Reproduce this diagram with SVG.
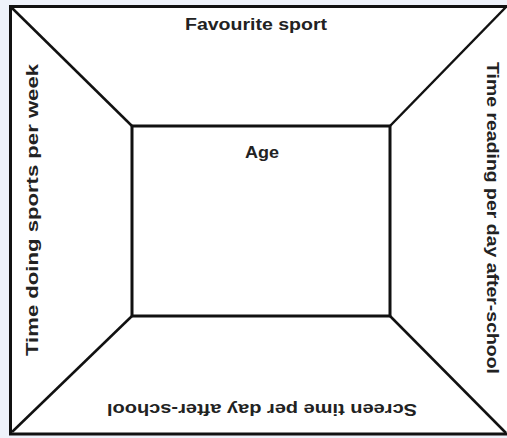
<svg xmlns="http://www.w3.org/2000/svg" width="507" height="438" viewBox="0 0 507 438">
<style>
.ln{stroke:#111;stroke-width:2.5;fill:none}
.bx{stroke:#111;stroke-width:3;fill:none}
.t{font-family:"Liberation Sans Narrow","Liberation Sans",Arial,sans-serif;font-size:16px;font-weight:bold;fill:#222;text-anchor:middle}
</style>
<rect x="0" y="0" width="507" height="438" fill="#eef2fa"/>
<rect x="10" y="6" width="500" height="428" fill="#ffffff"/>
<g id="connectors">
<line class="ln" x1="11" y1="7" x2="132" y2="126"/>
<line class="ln" x1="506" y1="7" x2="390" y2="126"/>
<line class="ln" x1="12" y1="432" x2="132" y2="316"/>
<line class="ln" x1="506" y1="433" x2="390" y2="316"/>
</g>
<g id="outer">
<polyline class="bx" points="510,6.5 10.5,6.5 10.5,434 510,434"/>
</g>
<g id="inner">
<rect class="bx" x="132" y="126" width="258" height="190"/>
<text class="t" x="262" y="158" textLength="34" lengthAdjust="spacingAndGlyphs">Age</text>
</g>
<g id="top">
<text class="t" x="256" y="30" textLength="142" lengthAdjust="spacingAndGlyphs">Favourite sport</text>
</g>
<g id="left">
<text class="t" transform="translate(38,210) rotate(-90)" textLength="292" lengthAdjust="spacingAndGlyphs">Time doing sports per week</text>
</g>
<g id="right">
<text class="t" transform="translate(487,218) rotate(90)" textLength="312" lengthAdjust="spacingAndGlyphs">Time reading per day after-school</text>
</g>
<g id="bottom">
<text class="t" transform="translate(262,404) rotate(180)" textLength="310" lengthAdjust="spacingAndGlyphs">Screen time per day after-school</text>
</g>
</svg>
